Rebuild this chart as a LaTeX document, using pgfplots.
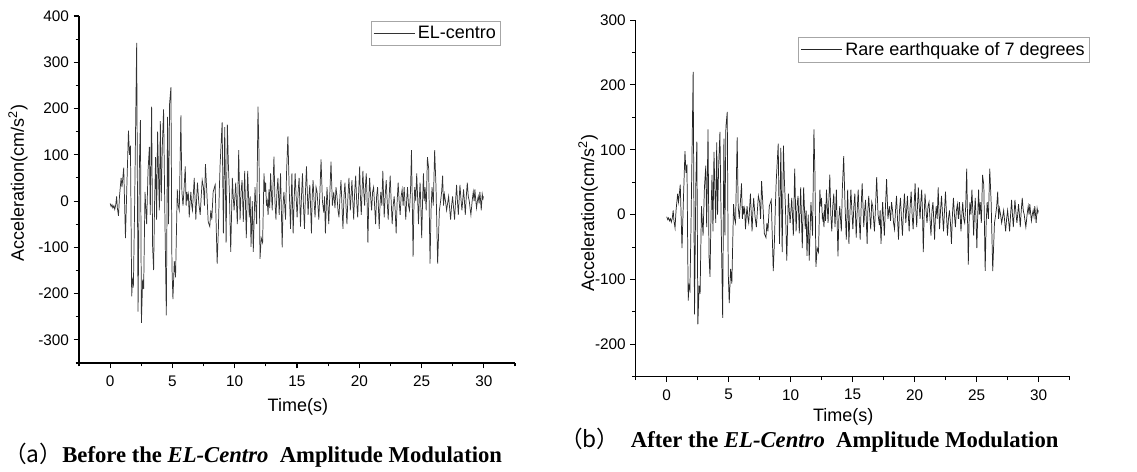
\documentclass[border=0pt]{standalone}
\usepackage{fontspec}
\setmainfont{Liberation Sans}
\newfontfamily\capfont{Liberation Serif}
\newfontfamily\cjk{Noto Sans CJK SC}
\usepackage{graphicx}
\usepackage{pgfplots}
\usepackage{pgfplotstable}
\pgfplotsset{compat=1.18}

\pgfplotstableread{
t a
0.00 -5
0.08 -12
0.15 -8
0.22 -15
0.30 -10
0.37 -18
0.45 -8
0.52 10
0.58 -15
0.67 -32
0.75 10
0.88 50
0.95 30
1.09 72
1.23 -80
1.35 40
1.47 152
1.55 100
1.63 120
1.73 -206
1.80 -170
1.87 -180
1.96 -20
2.04 150
2.13 342
2.24 -239
2.35 80
2.43 175
2.51 -263
2.61 -170
2.69 -190
2.80 20
2.93 -50
3.04 65
3.15 117
3.22 -30
3.33 204
3.41 -100
3.49 -149
3.57 0
3.65 95
3.73 -40
3.81 150
3.89 50
3.95 -20
4.03 173
4.10 0
4.19 120
4.29 198
4.37 20
4.43 -100
4.51 -247
4.61 182
4.69 -50
4.77 210
4.88 246
4.96 -140
5.04 -212
5.15 -130
5.25 -165
5.39 25
5.47 -10
5.55 -20
5.68 185
5.76 20
5.85 -10
5.94 30
6.03 75
6.10 -10
6.16 20
6.21 5
6.28 15
6.35 -35
6.42 0
6.48 20
6.55 -10
6.61 -20
6.68 15
6.75 50
6.82 0
6.88 -40
6.95 10
7.01 40
7.12 -5
7.23 -30
7.31 10
7.39 45
7.49 30
7.57 -10
7.65 80
7.76 20
7.87 -45
8.00 -55
8.08 -20
8.16 -40
8.27 20
8.43 35
8.59 -135
8.69 -60
8.76 20
8.83 80
8.99 170
9.09 -70
9.20 160
9.31 -90
9.41 165
9.49 80
9.57 20
9.68 -110
9.81 50
9.88 10
9.95 -20
10.08 40
10.21 -50
10.32 110
10.43 -40
10.51 20
10.59 45
10.69 -45
10.80 65
10.93 -80
11.04 65
11.17 -35
11.24 10
11.31 -99
11.41 0
11.49 -110
11.63 30
11.76 -50
11.87 204
11.95 100
12.03 -125
12.13 -80
12.24 -90
12.35 60
12.42 20
12.48 40
12.55 -10
12.61 0
12.68 -30
12.75 25
12.81 -15
12.88 60
13.01 -20
13.15 96
13.23 0
13.31 -40
13.39 20
13.47 50
13.57 -30
13.68 60
13.81 -100
13.88 -10
13.95 20
14.08 -40
14.16 60
14.27 140
14.37 30
14.48 -60
14.59 60
14.69 -70
14.77 0
14.85 60
14.93 10
15.01 -35
15.09 20
15.17 50
15.28 -55
15.36 10
15.44 60
15.52 -10
15.60 -60
15.68 20
15.76 75
15.89 -30
15.96 10
16.03 35
16.10 -20
16.16 -70
16.22 10
16.29 45
16.37 0
16.45 -35
16.53 30
16.61 20
16.68 -10
16.75 -40
16.84 20
16.93 90
17.04 0
17.15 -25
17.21 10
17.28 -70
17.34 -20
17.41 30
17.48 -10
17.55 -50
17.64 20
17.73 85
17.84 -10
17.95 20
18.05 -15
18.13 30
18.21 10
18.29 -20
18.37 -35
18.45 10
18.53 45
18.61 -10
18.69 -60
18.77 10
18.85 40
18.93 -10
19.01 -50
19.09 10
19.17 50
19.28 -20
19.34 10
19.41 45
19.48 0
19.55 -40
19.63 20
19.71 55
19.79 0
19.87 -35
19.95 20
20.03 75
20.09 10
20.16 -30
20.22 20
20.29 65
20.36 20
20.43 -10
20.49 30
20.56 60
20.62 10
20.69 -90
20.76 0
20.83 50
20.91 10
20.99 -20
21.07 20
21.15 30
21.23 -10
21.31 -50
21.39 10
21.47 30
21.53 -10
21.60 -60
21.66 -10
21.73 20
21.81 -10
21.89 65
22.00 -35
22.08 10
22.16 45
22.24 0
22.32 -40
22.40 10
22.48 55
22.56 0
22.64 -50
22.72 -10
22.80 10
22.88 -20
22.96 -70
23.04 0
23.12 40
23.20 0
23.28 -30
23.36 10
23.44 25
23.52 -10
23.60 30
23.66 0
23.73 -40
23.80 0
23.87 30
23.95 -10
24.03 -20
24.11 20
24.19 110
24.32 -120
24.38 -20
24.45 30
24.53 0
24.61 60
24.68 10
24.75 -50
24.81 0
24.88 40
24.94 -10
25.01 -80
25.08 0
25.15 60
25.21 0
25.28 30
25.37 -20
25.47 95
25.57 70
25.68 -135
25.76 -20
25.84 30
25.94 -10
26.05 110
26.16 30
26.29 -135
26.43 -20
26.53 0
26.61 20
26.69 55
26.76 -10
26.83 15
26.92 0
27.01 -20
27.09 -5
27.17 10
27.25 -15
27.33 -40
27.41 -10
27.49 10
27.57 -15
27.65 -40
27.73 0
27.81 35
27.88 0
27.95 -30
28.01 0
28.08 35
28.16 5
28.24 -20
28.30 0
28.37 25
28.44 0
28.51 -30
28.59 10
28.67 40
28.75 10
28.83 0
28.89 -15
28.96 -30
29.06 0
29.15 20
29.22 0
29.28 25
29.34 5
29.41 -15
29.48 0
29.55 10
29.62 -5
29.68 20
29.74 0
29.79 -20
29.87 15
29.93 5
29.97 10
}\elcentro

\pgfplotsset{quake/.style={
  scale only axis,
  axis x line*=bottom, axis y line*=left,
  axis line style={line width=0.8pt,-},
  xmin=-2.5, xmax=32.5,
  xtick={0,5,...,30},
  minor xtick={-2.5,2.5,...,32.5},
  tick align=outside,
  major tick length=4pt, minor tick length=2.5pt,
  every tick/.style={black, line width=0.8pt},
  tick label style={font=\fontsize{11.5}{13}\selectfont},
  xticklabel style={yshift=-2pt},
  /pgf/number format/assume math mode=true,
  label style={font=\fontsize{13.5}{15}\selectfont},
  xlabel={Time(s)},
  ylabel={Acceleration(cm/s\textsuperscript{2})},
  legend style={font=\fontsize{13.5}{15}\selectfont, draw=gray!70, line width=0.6pt,
    inner sep=1.5pt, legend cell align=left},
  legend image code/.code={\draw[#1] (0pt,0pt) -- (31pt,0pt);},
}}

\begin{document}
\begin{tikzpicture}
\path[use as bounding box] (0,0) rectangle (852.75pt,353.25pt);
\begin{axis}[quake,
  at={(59.25pt,81pt)}, anchor=south west,
  width=327pt, height=260.25pt,
  ymin=-350, ymax=400,
  ytick={-300,-200,...,400},
  minor ytick={-350,-250,...,350},
  xlabel style={at={(axis description cs:0.502,-0.127)}, anchor=center},
  ylabel style={at={(axis description cs:-0.140,0.519)}, anchor=center},
  legend style={at={(0.968,0.986)}, anchor=north east},
]
\addplot[black!80, line width=0.55pt] table[x=t, y=a] {\elcentro};
\addlegendentry{EL-centro}
\end{axis}

\begin{axis}[quake,
  at={(476.8pt,70.7pt)}, anchor=south west,
  width=325.5pt, height=267.5pt,
  ymin=-250, ymax=300,
  ytick={-200,-100,...,300},
  minor ytick={-250,-150,...,250},
  xlabel style={at={(axis description cs:0.478,-0.112)}, anchor=center},
  ylabel style={at={(axis description cs:-0.110,0.459)}, anchor=center},
  legend style={at={(1.046,0.952)}, anchor=north east},
]
\addplot[black!85, line width=0.55pt] table[x=t, y expr={0.644*\thisrow{a}}] {\elcentro};
\addlegendentry{Rare earthquake of 7 degrees}
\end{axis}

\node[font=\capfont\bfseries\fontsize{17}{19}\selectfont, anchor=west, inner sep=0pt] at (3pt,12pt)
  {{\cjk\mdseries （a）}Before the \textit{EL-Centro}\ \ Amplitude Modulation};
\node[font=\capfont\bfseries\fontsize{17}{19}\selectfont, anchor=west, inner sep=0pt] at (420pt,23pt)
  {{\cjk\mdseries （b）}\ \ After the \textit{EL-Centro}\ \ Amplitude Modulation};
\end{tikzpicture}
\end{document}
